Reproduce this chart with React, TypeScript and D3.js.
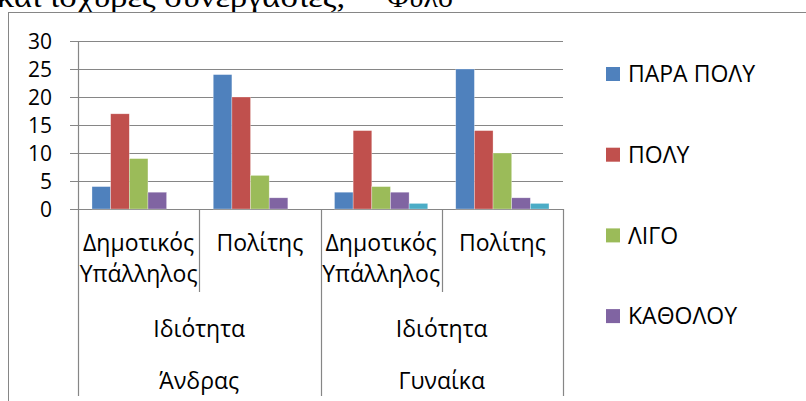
import { useEffect, useRef } from 'react';
import * as d3 from 'd3';

// categories (three levels of the category axis)
const subCategories = ['Δημοτικός Υπάλληλος', 'Πολίτης', 'Δημοτικός Υπάλληλος', 'Πολίτης'];
const midCategories = ['Ιδιότητα', 'Ιδιότητα'];
const topCategories = ['Άνδρας', 'Γυναίκα'];

// series values, one per sub category
const seriesNames = ['ΠΑΡΑ ΠΟΛΥ', 'ΠΟΛΥ', 'ΛΙΓΟ', 'ΚΑΘΟΛΟΥ', 'ΔΑ'];
const paraPoly = [4, 24, 3, 25];
const poly = [17, 20, 14, 14];
const ligo = [9, 6, 4, 10];
const katholou = [3, 2, 3, 2];
const fifth = [0, 0, 1, 1];
const seriesColors = ['#4F81BD', '#C0504D', '#9BBB59', '#8064A2', '#4BACC6'];

const yTicks = [0, 5, 10, 15, 20, 25, 30];

const W = 806;
const H = 401;
const FONT = '"Open Sans", sans-serif';

const App = () => {
  const svgRef = useRef<SVGSVGElement | null>(null);

  useEffect(() => {
    if (!svgRef.current) return;
    const svg = d3.select(svgRef.current);
    svg.selectAll('*').remove();

    const plot = { left: 78, right: 563, top: 41, bottom: 209 };
    const series = [paraPoly, poly, ligo, katholou, fifth];

    // document text above the chart, cut by the page top
    const serif = '"Liberation Serif", "DejaVu Serif", serif';
    svg.append('text')
      .attr('x', -3)
      .attr('y', 7)
      .attr('font-family', serif)
      .attr('font-size', 30)
      .attr('textLength', 348)
      .attr('lengthAdjust', 'spacingAndGlyphs')
      .attr('fill', '#000')
      .text('και ισχυρές συνεργασίες,');
    svg.append('text')
      .attr('x', 387)
      .attr('y', 7)
      .attr('font-family', serif)
      .attr('font-size', 30)
      .attr('textLength', 66)
      .attr('lengthAdjust', 'spacingAndGlyphs')
      .attr('fill', '#000')
      .text('Φύλο');

    // outer chart border
    svg.append('rect')
      .attr('x', 8.5)
      .attr('y', 12.5)
      .attr('width', 900)
      .attr('height', 500)
      .attr('fill', 'none')
      .attr('stroke', '#868686')
      .attr('stroke-width', 1);

    const y = d3.scaleLinear().domain([0, 30]).range([plot.bottom, plot.top]);

    const x0 = d3.scaleBand<number>()
      .domain(d3.range(subCategories.length))
      .range([plot.left, plot.right])
      .padding(0);
    const bw = x0.bandwidth();
    const barW = bw / (series.length + 1.5);
    const x1 = d3.scaleBand<number>()
      .domain(d3.range(series.length))
      .range([barW * 0.75, bw - barW * 0.75])
      .padding(0);

    // gridlines + tick marks
    const grid = svg.append('g');
    yTicks.forEach(t => {
      grid.append('line')
        .attr('x1', plot.left - 8)
        .attr('x2', plot.right)
        .attr('y1', Math.round(y(t)) + 0.5)
        .attr('y2', Math.round(y(t)) + 0.5)
        .attr('stroke', '#868686')
        .attr('stroke-width', 1.2);
      grid.append('text')
        .attr('x', 52)
        .attr('y', y(t))
        .attr('dy', '0.36em')
        .attr('text-anchor', 'end')
        .attr('font-family', FONT)
        .attr('font-size', 21)
        .attr('fill', '#000')
        .text(t);
    });
    // value axis line
    grid.append('line')
      .attr('x1', plot.left + 0.5)
      .attr('x2', plot.left + 0.5)
      .attr('y1', plot.top)
      .attr('y2', plot.bottom)
      .attr('stroke', '#868686')
      .attr('stroke-width', 1.2);

    // bars
    const barsG = svg.append('g');
    series.forEach((vals, si) => {
      vals.forEach((v, ci) => {
        if (v <= 0) return;
        barsG.append('rect')
          .attr('x', (x0(ci) ?? 0) + (x1(si) ?? 0))
          .attr('y', y(v))
          .attr('width', x1.bandwidth())
          .attr('height', plot.bottom - y(v))
          .attr('fill', seriesColors[si])
          .attr('stroke', 'rgba(255,255,255,0.5)')
          .attr('stroke-width', 0.6);
      });
    });

    // category axis dividers
    const axisG = svg.append('g');
    const divider = (x: number, y2: number) => {
      axisG.append('line')
        .attr('x1', Math.round(x) + 0.5)
        .attr('x2', Math.round(x) + 0.5)
        .attr('y1', plot.bottom)
        .attr('y2', y2)
        .attr('stroke', '#868686')
        .attr('stroke-width', 1.2);
    };
    d3.range(subCategories.length + 1).forEach(i => {
      const x = i < subCategories.length ? (x0(i) ?? 0) : plot.right;
      divider(x, i % 2 === 0 ? 396 : 292);
    });

    const label = (txt: string, x: number, yy: number) => {
      axisG.append('text')
        .attr('x', x)
        .attr('y', yy)
        .attr('text-anchor', 'middle')
        .attr('font-family', FONT)
        .attr('font-size', 23)
        .attr('fill', '#000')
        .text(txt);
    };

    subCategories.forEach((c, i) => {
      const cx = (x0(i) ?? 0) + bw / 2;
      const words = c.split(' ');
      words.forEach((w, k) => label(w, cx, 251 + k * 31));
    });
    midCategories.forEach((c, i) => {
      const cx = (x0(i * 2) ?? 0) + bw;
      label(c, cx, 337);
    });
    topCategories.forEach((c, i) => {
      const cx = (x0(i * 2) ?? 0) + bw;
      label(c, cx, 389);
    });

    // legend
    const legend = svg.append('g');
    seriesNames.forEach((name, i) => {
      const cy = 74 + i * 80.7;
      if (cy > H - 10) return;
      legend.append('rect')
        .attr('x', 606)
        .attr('y', cy - 7)
        .attr('width', 14)
        .attr('height', 14)
        .attr('fill', seriesColors[i]);
      legend.append('text')
        .attr('x', 628)
        .attr('y', cy)
        .attr('dy', '0.36em')
        .attr('font-family', FONT)
        .attr('font-size', 23)
        .attr('fill', '#000')
        .text(name);
    });
  }, []);

  return (
    <svg
      ref={svgRef}
      width={W}
      height={H}
      style={{ position: 'absolute', left: 0, top: 0, background: '#fff' }}
    />
  );
};

export default App;
